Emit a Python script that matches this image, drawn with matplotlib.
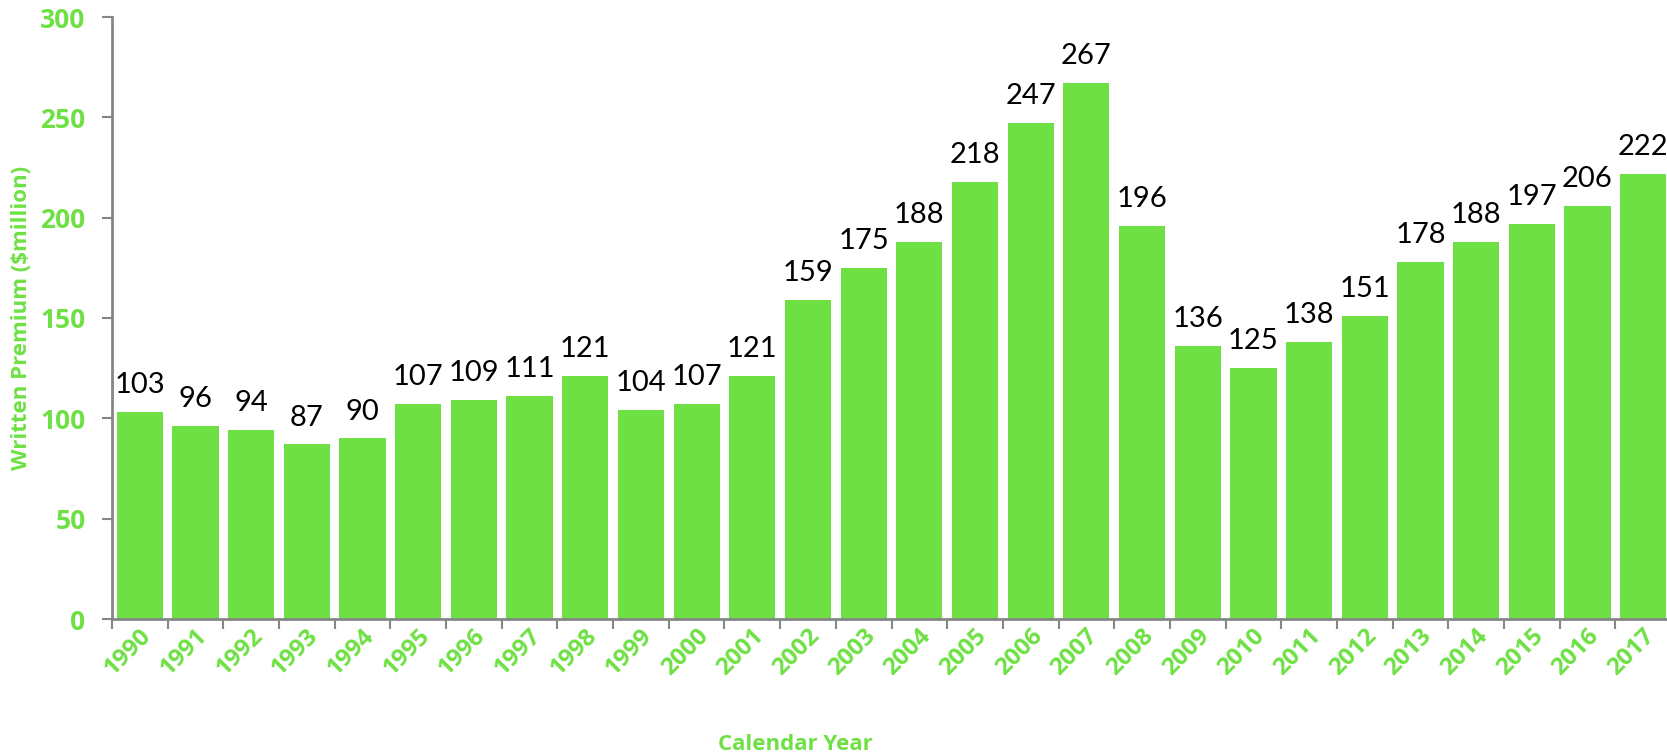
import matplotlib
matplotlib.use("Agg")
import matplotlib.pyplot as plt
import matplotlib.transforms as mtransforms
import numpy as np
from matplotlib.ticker import FixedLocator, NullFormatter

years = [str(y) for y in range(1990, 2018)]
premium = [103, 96, 94, 87, 90, 107, 109, 111, 121, 104, 107, 121, 159, 175,
           188, 218, 247, 267, 196, 136, 125, 138, 151, 178, 188, 197, 206, 222]

GREEN = "#6EE044"
AXIS_GRAY = "#868686"
BOLD_FONT = ["Open Sans", "DejaVu Sans"]

plt.rcParams["font.family"] = ["Lato", "DejaVu Sans"]

fig = plt.figure(figsize=(16.67, 7.56), dpi=100)
ax = fig.add_axes([112 / 1667, 1 - 619 / 756, 1559 / 1667, 602 / 756])

x = np.arange(len(years))
ax.bar(x, premium, width=0.83, color=GREEN, zorder=2)

for xi, v in zip(x, premium):
    ax.annotate(f"{v}", (xi, v), xytext=(0, 10), textcoords="offset points",
                ha="center", va="bottom", fontsize=21, color="black")

ax.set_xlim(-0.5, len(years) - 0.5)
ax.set_ylim(0, 300)
ax.set_yticks(range(0, 301, 50))

# category ticks sit between bars, labels centred on bars
ax.xaxis.set_major_locator(FixedLocator(np.arange(-0.5, len(years) + 0.5, 1)))
ax.xaxis.set_major_formatter(NullFormatter())
ax.xaxis.set_minor_locator(FixedLocator(x))
ax.set_xticklabels(years, minor=True)
ax.tick_params(axis="x", which="major", length=7, width=1.5, color=AXIS_GRAY, direction="out")
ax.tick_params(axis="x", which="minor", length=0, pad=10)
shift = mtransforms.ScaledTranslation(8 / 100, 0, fig.dpi_scale_trans)
for lbl in ax.get_xticklabels(minor=True):
    lbl.set_rotation(45)
    lbl.set_ha("right")
    lbl.set_va("center")
    lbl.set_rotation_mode("anchor")
    lbl.set_fontsize(17.5)
    lbl.set_fontweight("bold")
    lbl.set_family(BOLD_FONT)
    lbl.set_color(GREEN)
    lbl.set_transform(lbl.get_transform() + shift)

ax.tick_params(axis="y", length=7, width=1.5, color=AXIS_GRAY, direction="out", pad=12,
               labelsize=19, labelcolor=GREEN)
for lbl in ax.get_yticklabels():
    lbl.set_fontweight("bold")
    lbl.set_family(BOLD_FONT)

for side in ("top", "right"):
    ax.spines[side].set_visible(False)
for side in ("left", "bottom"):
    ax.spines[side].set_color(AXIS_GRAY)
    ax.spines[side].set_linewidth(2)

ax.set_ylabel("Written Premium ($million)", fontsize=16, fontweight="bold", color=GREEN,
              family=BOLD_FONT, va="center")
ax.yaxis.set_label_coords(-(112 - 22) / 1559, 0.5)
fig.text(795 / 1667, 1 - 744 / 756, "Calendar Year", fontsize=16,
         fontweight="bold", color=GREEN, ha="center", va="center", family=BOLD_FONT)

fig.savefig("out.png", dpi=100)
